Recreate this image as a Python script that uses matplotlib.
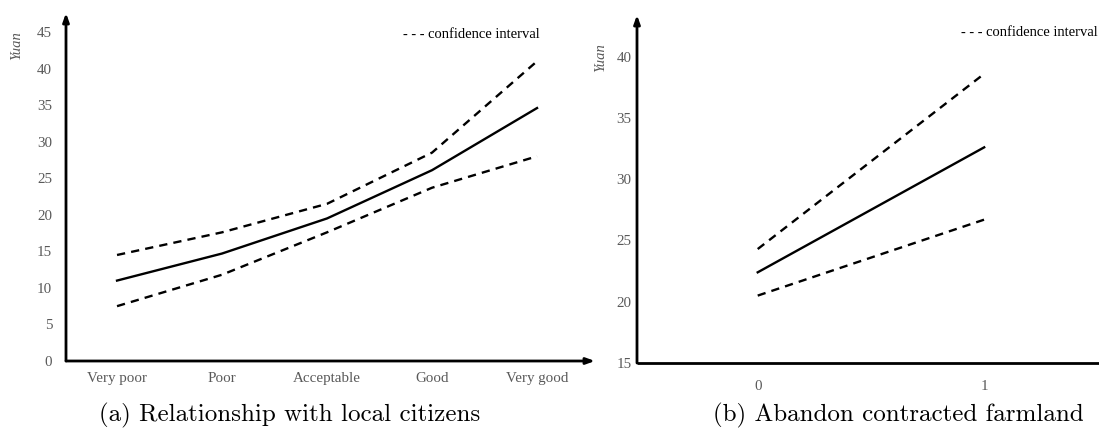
import matplotlib
matplotlib.use('Agg')
import matplotlib.pyplot as plt

# panel (a) data
levels = ['Very poor', 'Poor', 'Acceptable', 'Good', 'Very good']
mean_a = [11.0, 14.7, 19.5, 26.1, 34.6]
upper_a = [14.5, 17.6, 21.5, 28.5, 41.0]
lower_a = [7.5, 11.8, 17.6, 23.7, 28.0]
yticks_a = [0, 5, 10, 15, 20, 25, 30, 35, 40, 45]

# panel (b) data
abandon = [0, 1]
mean_b = [22.4, 32.6]
upper_b = [24.3, 38.6]
lower_b = [20.5, 26.7]
yticks_b = [15, 20, 25, 30, 35, 40]

W, H = 1099, 438
fig = plt.figure(figsize=(W / 100, H / 100), dpi=100)

tick_font = dict(family='Liberation Serif', size=10.8, color='#595959')
dash = (0, (3.5, 2.6))


def fx(px):
    return px / W


def fy(py):
    return 1 - py / H


def setup_axes(ax, arrow_x=True):
    for s in ax.spines.values():
        s.set_visible(False)
    ax.annotate('', xy=(0, 1), xytext=(0, 0), xycoords='axes fraction',
                arrowprops=dict(arrowstyle='-|>,head_length=0.5,head_width=0.18',
                                lw=2.0, color='black', shrinkA=0, shrinkB=0))
    if arrow_x:
        ax.annotate('', xy=(1, 0), xytext=(0, 0), xycoords='axes fraction',
                    arrowprops=dict(arrowstyle='-|>,head_length=0.5,head_width=0.18',
                                    lw=2.0, color='black', shrinkA=0, shrinkB=0))
    else:
        ax.plot([0, 1], [0, 0], transform=ax.transAxes, color='black', lw=2.0,
                clip_on=False, solid_capstyle='butt')
    ax.tick_params(length=0)


# (a)
ax1 = fig.add_axes([fx(66), fy(361), fx(595 - 66), (361 - 13) / H])
x = list(range(len(levels)))
ax1.plot(x, mean_a, color='black', lw=1.7)
ax1.plot(x, upper_a, color='black', lw=1.7, linestyle=dash)
ax1.plot(x, lower_a, color='black', lw=1.7, linestyle=dash)
ax1.set_xlim(-0.486, 4.552)
ax1.set_ylim(0, 47.6)
ax1.set_xticks(x)
ax1.set_xticklabels(levels, fontdict=tick_font)
ax1.set_yticks(yticks_a)
ax1.set_yticklabels([str(v) for v in yticks_a], fontdict=tick_font)
ax1.tick_params(axis='y', pad=10)
ax1.tick_params(axis='x', pad=8)
setup_axes(ax1)

# (b)
ax2 = fig.add_axes([fx(637), fy(363), fx(W - 637), (363 - 15) / H])
ax2.plot(abandon, mean_b, color='black', lw=1.7)
ax2.plot(abandon, upper_b, color='black', lw=1.7, linestyle=dash)
ax2.plot(abandon, lower_b, color='black', lw=1.7, linestyle=dash)
ax2.set_xlim(-0.533, 1.507)
ax2.set_ylim(15, 43.4)
ax2.set_xticks(abandon)
ax2.set_xticklabels([str(v) for v in abandon], fontdict=tick_font)
ax2.set_yticks(yticks_b)
ax2.set_yticklabels([str(v) for v in yticks_b], fontdict=tick_font)
ax2.tick_params(axis='y', pad=4)
ax2.tick_params(axis='x', pad=12)
setup_axes(ax2, arrow_x=False)

# y labels
fig.text(fx(17), fy(46), 'Yuan', rotation=90, ha='center', va='center',
         family='Liberation Serif', style='italic', size=10.5, color='#595959')
fig.text(fx(601), fy(58), 'Yuan', rotation=90, ha='center', va='center',
         family='Liberation Serif', style='italic', size=10.5, color='#595959')

# legend notes
fig.text(fx(403), fy(34), '- - - confidence interval', ha='left', va='center',
         family='Liberation Serif', size=10.5, color='black')
fig.text(fx(961), fy(32), '- - - confidence interval', ha='left', va='center',
         family='Liberation Serif', size=10.5, color='black')

# captions
fig.text(fx(290), fy(415), '(a) Relationship with local citizens', ha='center', va='center',
         family='cmr10', size=18)
fig.text(fx(898), fy(415), '(b) Abandon contracted farmland', ha='center', va='center',
         family='cmr10', size=18)

fig.savefig('out.png', dpi=100)
